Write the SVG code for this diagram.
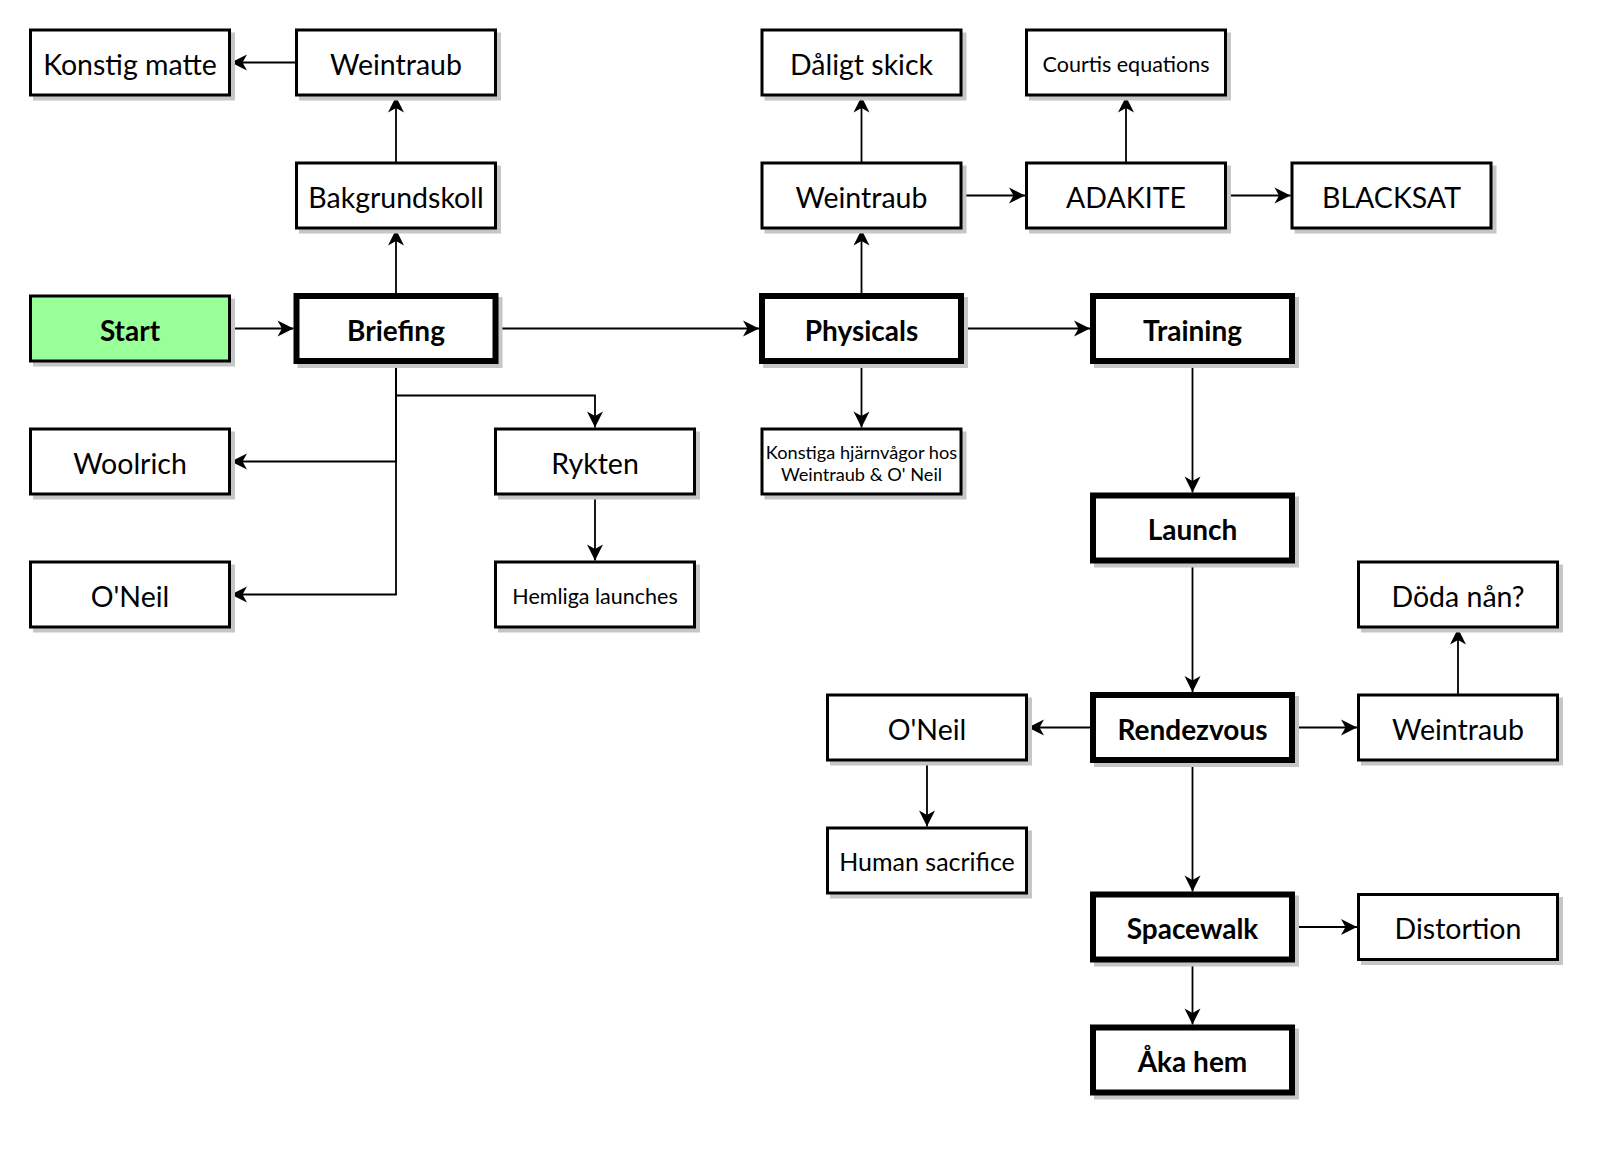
<svg xmlns="http://www.w3.org/2000/svg" width="1600" height="1157" viewBox="0 0 1600 1157">
<style>
.sh{fill:#c6c6c6;stroke:#c6c6c6;stroke-width:3}
.shk{fill:#c6c6c6;stroke:#c6c6c6;stroke-width:6}
.b{fill:#fff;stroke:#000;stroke-width:3}
.k{fill:#fff;stroke:#000;stroke-width:6}
.g{fill:#99ff99;stroke:#000;stroke-width:3}
text{font-family:Lato,"Noto Sans",sans-serif;fill:#000;text-anchor:middle}
.t{font-size:28.5px}
.tb{font-size:28px;font-weight:bold}
.s{font-size:21.5px}
.xs{font-size:18.2px}
.m{font-size:25px}
.c{fill:none;stroke:#000;stroke-width:1.8;marker-end:url(#arr)}
</style>
<defs>
<marker id="arr" markerUnits="userSpaceOnUse" markerWidth="18" markerHeight="18" refX="16" refY="8" orient="auto" overflow="visible"><path d="M0,0 L16,8 L0,16 L4.5,8 Z" fill="#000"/></marker>
</defs>
<rect width="1600" height="1157" fill="#fff"/>
<g id="connectors">
<path class="c" d="M296.5,62.5 H231"/>
<path class="c" d="M396,163 V96.5"/>
<path class="c" d="M396,296 V229.5"/>
<path class="c" d="M229.5,328.5 H293.5"/>
<path class="c" d="M495.5,328.5 H759"/>
<path class="c" d="M961,328.5 H1090"/>
<path class="c" d="M861.5,296 V229.5"/>
<path class="c" d="M861.5,163 V96.5"/>
<path class="c" d="M961,195.5 H1025"/>
<path class="c" d="M1126,163 V96.5"/>
<path class="c" d="M1225.5,195.5 H1290.5"/>
<path class="c" d="M861.5,361 V427.5"/>
<path class="c" d="M396,361 V395.5 H595 V427.5"/>
<path class="c" d="M396,361 V461.5 H231"/>
<path class="c" d="M396,361 V594.5 H231"/>
<path class="c" d="M595,494 V560.5"/>
<path class="c" d="M1192.5,361 V492.5"/>
<path class="c" d="M1192.5,560.5 V692"/>
<path class="c" d="M1093,727.5 H1028"/>
<path class="c" d="M1292,727.5 H1357"/>
<path class="c" d="M1458,695 V628.5"/>
<path class="c" d="M927,760 V826.5"/>
<path class="c" d="M1192.5,760 V891.5"/>
<path class="c" d="M1292,927 H1357"/>
<path class="c" d="M1192.5,959.5 V1024.5"/>
</g>
<g id="konstig-matte"><rect class="sh" x="34.5" y="34" width="199" height="65"/><rect class="b" x="30.5" y="30" width="199" height="65"/><text class="t" x="130" y="74.5">Konstig matte</text></g>
<g id="weintraub-1"><rect class="sh" x="300.5" y="34" width="199" height="65"/><rect class="b" x="296.5" y="30" width="199" height="65"/><text class="t" x="396" y="74.5">Weintraub</text></g>
<g id="bakgrundskoll"><rect class="sh" x="300.5" y="167" width="199" height="65"/><rect class="b" x="296.5" y="163" width="199" height="65"/><text class="t" x="396" y="207.5">Bakgrundskoll</text></g>
<g id="start"><rect class="sh" x="34.5" y="300" width="199" height="65"/><rect class="g" x="30.5" y="296" width="199" height="65"/><text class="tb" x="130" y="340.5">Start</text></g>
<g id="briefing"><rect class="shk" x="300.5" y="300" width="199" height="65"/><rect class="k" x="296.5" y="296" width="199" height="65"/><text class="tb" x="396" y="340.5">Briefing</text></g>
<g id="woolrich"><rect class="sh" x="34.5" y="433" width="199" height="65"/><rect class="b" x="30.5" y="429" width="199" height="65"/><text class="t" x="130" y="473.5">Woolrich</text></g>
<g id="oneil-1"><rect class="sh" x="34.5" y="566" width="199" height="65"/><rect class="b" x="30.5" y="562" width="199" height="65"/><text class="t" x="130" y="606.5">O'Neil</text></g>
<g id="rykten"><rect class="sh" x="499.5" y="433" width="199" height="65"/><rect class="b" x="495.5" y="429" width="199" height="65"/><text class="t" x="595" y="473.5">Rykten</text></g>
<g id="hemliga-launches"><rect class="sh" x="499.5" y="566" width="199" height="65"/><rect class="b" x="495.5" y="562" width="199" height="65"/><text class="s" x="595" y="603.5">Hemliga launches</text></g>
<g id="daligt-skick"><rect class="sh" x="766" y="34" width="199" height="65"/><rect class="b" x="762" y="30" width="199" height="65"/><text class="t" x="861.5" y="74.5">Dåligt skick</text></g>
<g id="weintraub-2"><rect class="sh" x="766" y="167" width="199" height="65"/><rect class="b" x="762" y="163" width="199" height="65"/><text class="t" x="861.5" y="207.5">Weintraub</text></g>
<g id="physicals"><rect class="shk" x="766" y="300" width="199" height="65"/><rect class="k" x="762" y="296" width="199" height="65"/><text class="tb" x="861.5" y="340.5">Physicals</text></g>
<g id="konstiga-hjarnvagor"><rect class="sh" x="766" y="433" width="199" height="65"/><rect class="b" x="762" y="429" width="199" height="65"/><text class="xs" x="861.5" y="458.5">Konstiga hjärnvågor hos</text><text class="xs" x="861.5" y="480.5">Weintraub &amp; O' Neil</text></g>
<g id="courtis-equations"><rect class="sh" x="1030.5" y="34" width="199" height="65"/><rect class="b" x="1026.5" y="30" width="199" height="65"/><text class="s" x="1126" y="71.5">Courtis equations</text></g>
<g id="adakite"><rect class="sh" x="1030.5" y="167" width="199" height="65"/><rect class="b" x="1026.5" y="163" width="199" height="65"/><text class="t" x="1126" y="207.5">ADAKITE</text></g>
<g id="blacksat"><rect class="sh" x="1296" y="167" width="199" height="65"/><rect class="b" x="1292" y="163" width="199" height="65"/><text class="t" x="1391.5" y="207.5">BLACKSAT</text></g>
<g id="training"><rect class="shk" x="1097" y="300" width="199" height="65"/><rect class="k" x="1093" y="296" width="199" height="65"/><text class="tb" x="1192.5" y="340.5">Training</text></g>
<g id="launch"><rect class="shk" x="1097" y="499.5" width="199" height="65"/><rect class="k" x="1093" y="495.5" width="199" height="65"/><text class="tb" x="1192.5" y="540">Launch</text></g>
<g id="doda-nan"><rect class="sh" x="1362.5" y="566" width="199" height="65"/><rect class="b" x="1358.5" y="562" width="199" height="65"/><text class="t" x="1458" y="606.5">Döda nån?</text></g>
<g id="oneil-2"><rect class="sh" x="831.5" y="699" width="199" height="65"/><rect class="b" x="827.5" y="695" width="199" height="65"/><text class="t" x="927" y="739.5">O'Neil</text></g>
<g id="rendezvous"><rect class="shk" x="1097" y="699" width="199" height="65"/><rect class="k" x="1093" y="695" width="199" height="65"/><text class="tb" x="1192.5" y="739.5">Rendezvous</text></g>
<g id="weintraub-3"><rect class="sh" x="1362.5" y="699" width="199" height="65"/><rect class="b" x="1358.5" y="695" width="199" height="65"/><text class="t" x="1458" y="739.5">Weintraub</text></g>
<g id="human-sacrifice"><rect class="sh" x="831.5" y="832" width="199" height="65"/><rect class="b" x="827.5" y="828" width="199" height="65"/><text class="m" x="927" y="870.5">Human sacrifice</text></g>
<g id="spacewalk"><rect class="shk" x="1097" y="898.5" width="199" height="65"/><rect class="k" x="1093" y="894.5" width="199" height="65"/><text class="tb" x="1192.5" y="939">Spacewalk</text></g>
<g id="distortion"><rect class="sh" x="1362.5" y="898.5" width="199" height="65"/><rect class="b" x="1358.5" y="894.5" width="199" height="65"/><text class="t" x="1458" y="939">Distortion</text></g>
<g id="aka-hem"><rect class="shk" x="1097" y="1031.5" width="199" height="65"/><rect class="k" x="1093" y="1027.5" width="199" height="65"/><text class="tb" x="1192.5" y="1072">Åka hem</text></g>
</svg>
